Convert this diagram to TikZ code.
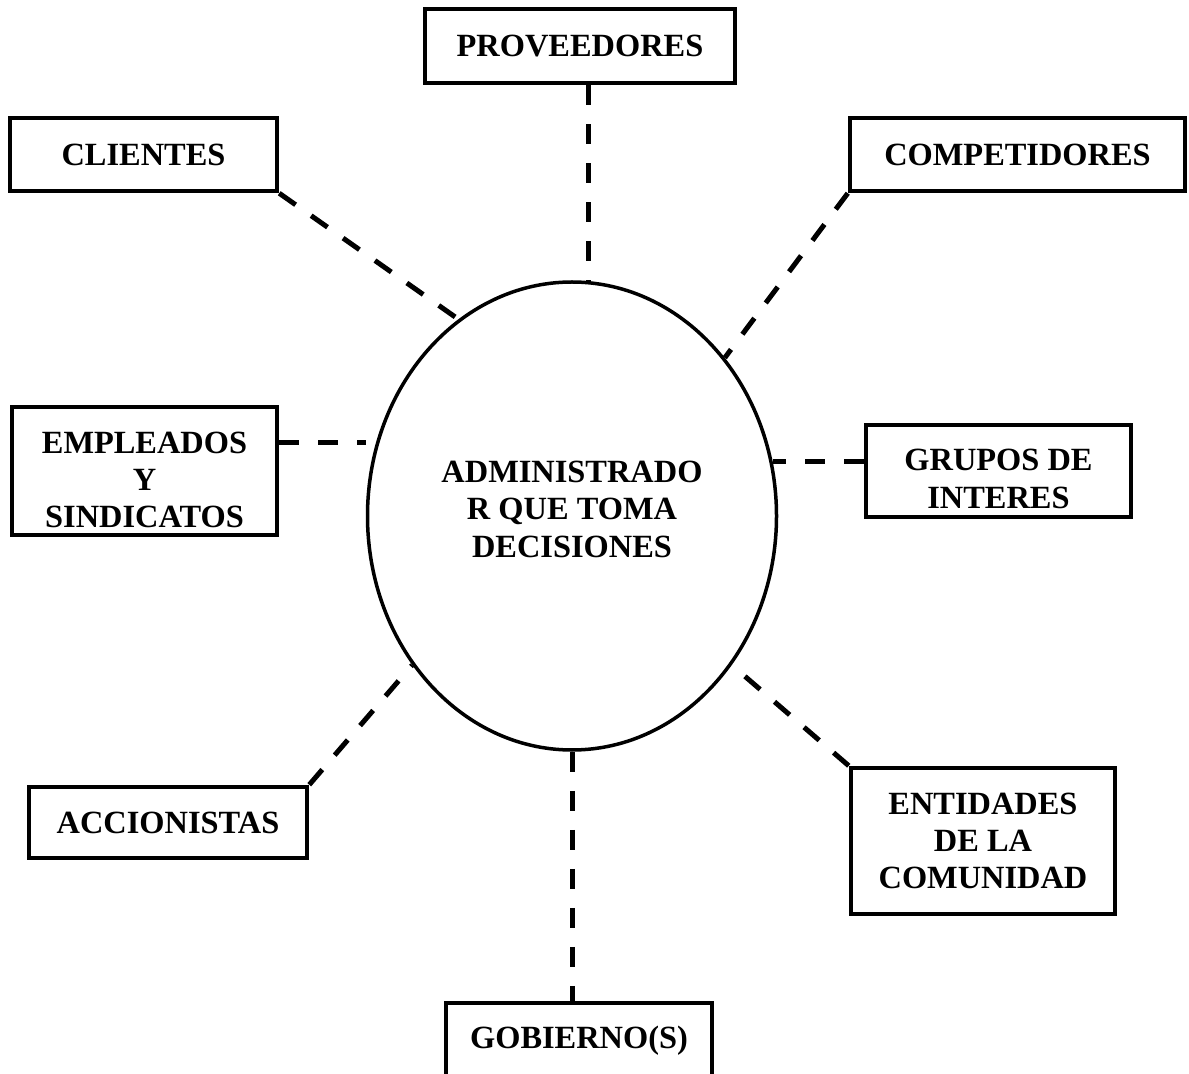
\documentclass[tikz,border=0pt]{standalone}
\usepackage{fontspec}
\setmainfont{Liberation Serif}
\usepackage{tikz}
\usetikzlibrary{shapes.geometric,calc}

\begin{document}
\begin{tikzpicture}[
  x=0.5pt, y=-0.5pt,
  actor/.style={rectangle, draw=black, line width=2.25pt, inner sep=0pt, align=center, font=\fontsize{16.2}{18.7}\selectfont\bfseries},
  manager/.style={ellipse, draw=black, line width=1.75pt, inner sep=0pt, minimum width=204.5pt, minimum height=234pt, align=center, font=\fontsize{16.2}{18.7}\selectfont\bfseries},
  link/.style={line width=2.5pt, dash pattern=on 10pt off 9.5pt, draw=black}
]
\useasboundingbox (0,0) rectangle (1189,1074);

% Center
\node[manager] (adm) at (572, 516) {ADMINISTRADO\\R QUE TOMA\\DECISIONES\rule[-7pt]{0pt}{0pt}};

% Stakeholders
\node[actor, minimum width=155pt, minimum height=37pt] (prov) at (580, 46) {PROVEEDORES};
\node[actor, minimum width=133.5pt, minimum height=36.5pt] (cli) at (143.5, 154.5) {CLIENTES};
\node[actor, minimum width=167.5pt, minimum height=36.5pt] (comp) at (1017.5, 154.5) {COMPETIDORES};
\node[actor, minimum width=132.5pt, minimum height=64pt] (emp) at (144.5, 471) {\rule{0pt}{19.7pt}EMPLEADOS\\Y\\SINDICATOS};
\node[actor, minimum width=132.5pt, minimum height=46pt] (grp) at (998.5, 471) {\rule{0pt}{18.7pt}GRUPOS DE\\INTERES};
\node[actor, minimum width=139pt, minimum height=35.5pt] (acc) at (168, 822.5) {ACCIONISTAS};
\node[actor, minimum width=132pt, minimum height=73pt] (ent) at (983, 841) {ENTIDADES\\DE LA\\COMUNIDAD};
\node[actor, minimum width=133pt, minimum height=38pt] (gob) at (579, 1041) {GOBIERNO(S)};

% Dashed links
\draw[link] (adm.86.5 |- prov.south) -- (adm.86.5);
\draw[link] (cli.south east) -- (adm.120);
\draw[link] (comp.south west) -- (adm.46);
\draw[link] (emp.12) -- (emp.12 -| adm.west);
\draw[link] (grp.176) -- (grp.176 -| adm.15);
\draw[link] (acc.north east) -- (adm.223);
\draw[link] (ent.north west) -- (adm.317);
\draw[link] (adm.south) -- (adm.south |- gob.north);

\end{tikzpicture}
\end{document}
